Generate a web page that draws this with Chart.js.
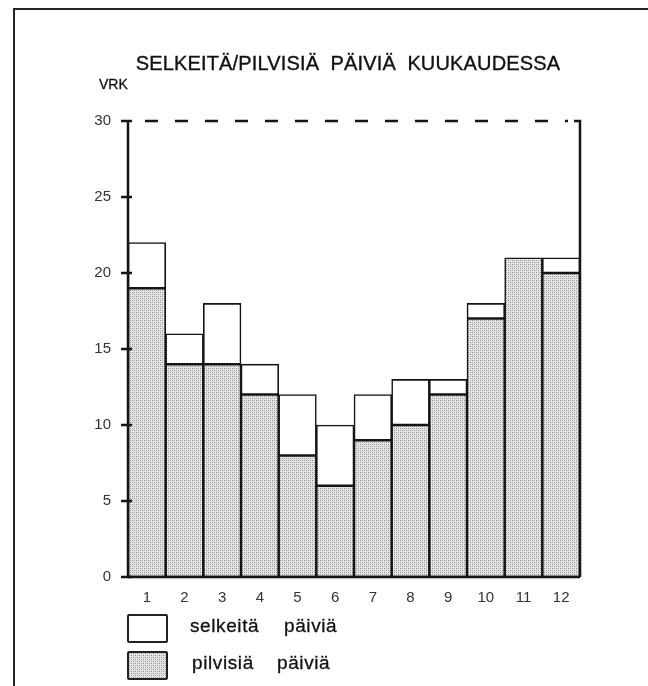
<!DOCTYPE html>
<html>
<head>
<meta charset="utf-8">
<script src="https://cdn.jsdelivr.net/npm/chart.js@4"></script>
<style>
  body { margin: 0; background: #fff; }
  #wrap { position: relative; width: 648px; height: 686px; overflow: hidden; font-family: "Liberation Sans", Arial, sans-serif; color: #111; }
  #frame { position: absolute; left: 13px; top: 8px; width: 700px; height: 760px; border-left: 2px solid #222; border-top: 2px solid #222; }
  #chart { position: absolute; left: 0; top: 0; }
  #title { position: absolute; left: 48px; width: 600px; top: 52px; text-align: center; font-size: 20px; white-space: pre; letter-spacing: 0.15px; -webkit-text-stroke: 0.35px #111; }
  #vrk { position: absolute; left: 99px; top: 76px; font-size: 14px; -webkit-text-stroke: 0.3px #111; }
  .leg { position: absolute; left: 127px; width: 37px; height: 25px; border: 2px solid #222; border-radius: 2px; background: #fff; }
  .legtxt { position: absolute; font-size: 19px; white-space: pre; letter-spacing: 0.6px; -webkit-text-stroke: 0.3px #111; }
</style>
</head>
<body>
<div id="wrap">
  <div id="frame"></div>
  <canvas id="chart" width="648" height="686"></canvas>
  <div id="title">SELKEITÄ/PILVISIÄ  PÄIVIÄ  KUUKAUDESSA</div>
  <div id="vrk">VRK</div>
  <div class="leg" style="top:614px"></div>
  <div class="legtxt" style="top:615px; left:190px">selkeitä</div>
  <div class="legtxt" style="top:615px; left:284px">päiviä</div>
  <canvas class="leg" id="legbox2" width="37" height="25" style="top:651px"></canvas>
  <div class="legtxt" style="top:652px; left:192px">pilvisiä</div>
  <div class="legtxt" style="top:652px; left:277px">päiviä</div>
</div>
<script>
// months and day counts per month
var months = ['1', '2', '3', '4', '5', '6', '7', '8', '9', '10', '11', '12'];
var pilvisia = [19, 14, 14, 12, 8, 6, 9, 10, 12, 17, 21, 20];   // cloudy days
var selkeita = [3, 2, 4, 2, 4, 4, 3, 3, 1, 1, 0, 1];            // clear days
var yTicks = [0, 5, 10, 15, 20, 25, 30];

// stipple pattern for the cloudy bars
function makeStipple() {
    var c = document.createElement('canvas');
    c.width = 4; c.height = 4;
    var g = c.getContext('2d');
    g.fillStyle = '#e4e4e4';
    g.fillRect(0, 0, 4, 4);
    g.fillStyle = '#8a8a8a';
    g.fillRect(0, 0, 1, 1);
    g.fillRect(2, 2, 1, 1);
    g.fillStyle = '#b8b8b8';
    g.fillRect(2, 0, 1, 1);
    g.fillRect(0, 2, 1, 1);
    return c;
}
var stipple = makeStipple();
var ctx0 = document.getElementById('chart').getContext('2d');
var stipplePattern = ctx0.createPattern(stipple, 'repeat');

var lg = document.getElementById('legbox2').getContext('2d');
lg.fillStyle = lg.createPattern(stipple, 'repeat');
lg.fillRect(0, 0, 37, 25);

// axes frame: ticks, dashed top line, right axis
var frameLines = {
    id: 'frameLines',
    afterDatasetsDraw: function(chart) {
        var c = chart.ctx;
        var y = chart.scales.y;
        var a = chart.chartArea;
        var top = y.getPixelForValue(30);
        var bot = y.getPixelForValue(0);
        c.save();
        c.strokeStyle = '#151515';
        c.lineWidth = 2.5;
        c.lineCap = 'butt';
        // left axis
        c.beginPath();
        c.moveTo(a.left, top); c.lineTo(a.left, bot);
        c.stroke();
        // tick marks
        yTicks.forEach(function(v) {
            var p = y.getPixelForValue(v);
            c.beginPath();
            c.moveTo(a.left - 7, p); c.lineTo(a.left + 4, p);
            c.stroke();
        });
        // bottom axis
        c.beginPath();
        c.moveTo(a.left, bot); c.lineTo(a.right, bot);
        c.stroke();
        // right axis
        c.beginPath();
        c.moveTo(a.right - 6, top); c.lineTo(a.right, top); c.lineTo(a.right, bot);
        c.stroke();
        // dashed top
        c.setLineDash([13, 17]);
        c.lineDashOffset = 13;
        c.beginPath();
        c.moveTo(a.left, top); c.lineTo(a.right - 12, top);
        c.stroke();
        c.restore();
    }
};

var myChart = new Chart(ctx0, {
    type: 'bar',
    data: {
        labels: months,
        datasets: [{
            label: 'pilvisiä päiviä',
            data: pilvisia,
            backgroundColor: stipplePattern,
            borderColor: '#151515',
            borderWidth: 1.6,
            borderSkipped: false
        }, {
            label: 'selkeitä päiviä',
            data: selkeita,
            backgroundColor: '#ffffff',
            borderColor: '#151515',
            borderWidth: 1.6,
            borderSkipped: false
        }]
    },
    options: {
        responsive: false,
        animation: false,
        layout: { padding: { top: 121, right: 68, bottom: 0, left: 0 } },
        datasets: { bar: { categoryPercentage: 1, barPercentage: 1 } },
        scales: {
            x: {
                stacked: true,
                grid: { display: false, drawTicks: false },
                border: { display: false },
                ticks: { color: '#333', font: { family: 'Liberation Sans', size: 15 }, padding: 12, maxRotation: 0 },
                afterFit: function(s) { s.height = 109; }
            },
            y: {
                stacked: true,
                min: 0,
                max: 30,
                afterBuildTicks: function(s) { s.ticks = yTicks.map(function(v) { return { value: v }; }); },
                grid: { display: false, drawTicks: false },
                border: { display: false },
                ticks: { color: '#333', font: { family: 'Liberation Sans', size: 15 }, padding: 17 },
                afterFit: function(s) { s.width = 128; }
            }
        },
        plugins: {
            legend: { display: false },
            title: { display: false },
            tooltip: { enabled: false }
        }
    },
    plugins: [frameLines]
});
</script>
</body>
</html>
